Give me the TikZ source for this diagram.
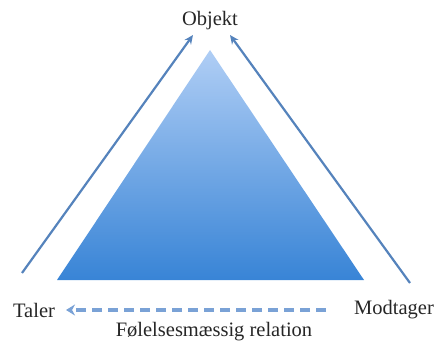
\documentclass[tikz,border=0pt]{standalone}
\usepackage{fontspec}
\setmainfont{Liberation Serif}
\usetikzlibrary{arrows.meta}
\definecolor{arrowblue}{HTML}{5583BC}
\definecolor{dashblue}{HTML}{7AA2D6}
\definecolor{tritop}{HTML}{B0CEF5}
\definecolor{tribot}{HTML}{3884D6}
\definecolor{txt}{HTML}{262626}
\tikzset{
  lbl/.style={font=\fontsize{20.5}{23}\selectfont, text=txt, inner sep=0pt},
  side/.style={draw=arrowblue, line width=2.2pt, -{Stealth[length=9pt,width=8pt]}},
  rel/.style={draw=dashblue, line width=3.6pt, dash pattern=on 10pt off 6pt, -{Stealth[length=9pt,width=11pt]}},
}
\begin{document}
\begin{tikzpicture}[x=1pt,y=1pt]
\useasboundingbox (0,0) rectangle (438,345);
% triangle
\shade[top color=tritop, bottom color=tribot] (57,65) -- (210,295) -- (364,65) -- cycle;
% labels
\node[lbl] (obj) at (210,324) {Objekt};
\node[lbl] (tal) at (34,35) {Taler};
\node[lbl] (mod) at (394,35) {Modtager};
\node[lbl] (fr) at (214,13) {Følelsesmæssig relation};
% side arrows
\coordinate (ls) at (22,72);
\coordinate (le) at (193,310);
\coordinate (rs) at (410,62);
\coordinate (re) at (230,310);
\draw[side] (ls) -- (le);
\draw[side] (rs) -- (re);
% dashed relation arrow
\coordinate (ds) at (326,35);
\coordinate (de) at (66,35);
\draw[rel] (ds) -- (de);
\end{tikzpicture}
\end{document}
